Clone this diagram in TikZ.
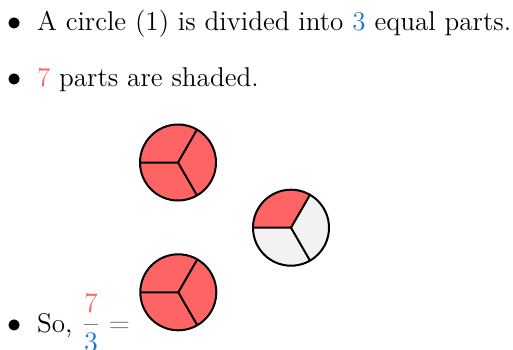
\documentclass[tikz,border=0pt]{standalone}

\definecolor{fracRed}{RGB}{255,100,100}
\definecolor{fracBlue}{RGB}{25,118,205}
\definecolor{fracEmpty}{RGB}{242,242,242}
\definecolor{fracMuted}{RGB}{128,128,128}

\begin{document}
\begin{tikzpicture}[x=0.4255pt,y=0.4255pt,
      line/.style={font=\fontsize{11.55}{13.8}\selectfont,
        anchor=base west, inner sep=0pt, outer sep=0pt},
      dot/.style={font=\fontsize{11.55}{13.8}\selectfont,
        anchor=base, inner sep=0pt, outer sep=0pt},
      rim/.style={draw=black, line width=.85pt, line join=round}]
      \useasboundingbox (0,0) rectangle (513,349);

      % the three statements
      \node[dot] (dotA) at (15,319) {$\bullet$};
      \node[line] (lineA) at (37,319)
        {A circle (1) is divided into \textcolor{fracBlue}{3} equal parts.};
      \node[dot] (dotB) at (15,262.3) {$\bullet$};
      \node[line] (lineB) at (37,262.3)
        {\textcolor{fracRed}{7} parts are shaded.};
      \node[dot] (dotC) at (15,17) {$\bullet$};
      \node[line] (lineC) at (37,17)
        {So, {\color{fracMuted}$\displaystyle
          \frac{\color{fracRed}7}{\color{fracBlue}3} =$}};

      % circles cut into thirds
      \foreach \cx/\cy/\ca/\cb/\cc in {
          178/186.5/fracRed/fracRed/fracRed,
          291/121.3/fracRed/fracEmpty/fracEmpty,
          178.3/56.7/fracRed/fracRed/fracRed}{
        \fill[\ca] (\cx,\cy) -- ++(60:38)
          arc[start angle=60, end angle=180, radius=38] -- cycle;
        \fill[\cb] (\cx,\cy) -- ++(180:38)
          arc[start angle=180, end angle=300, radius=38] -- cycle;
        \fill[\cc] (\cx,\cy) -- ++(300:38)
          arc[start angle=300, end angle=420, radius=38] -- cycle;
        \path[rim] (\cx,\cy) circle[radius=38];
        \path[rim] (\cx,\cy) -- ++(60:38) (\cx,\cy) -- ++(180:38)
          (\cx,\cy) -- ++(300:38);}
    \end{tikzpicture}
\end{document}
